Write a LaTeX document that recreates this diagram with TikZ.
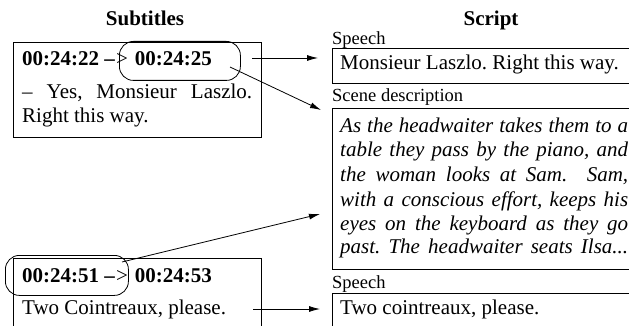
\documentclass[tikz,border=0pt]{standalone}
\usepackage{fontspec}
\setmainfont{Liberation Serif}
\usetikzlibrary{arrows.meta}

\newcommand{\stamppair}[2]{\textbf{#1 –}\hspace{1pt}{>}\hspace{7pt}\textbf{#2}}

\tikzset{
  headtxt/.style={font=\fontsize{21}{25}\selectfont\bfseries, anchor=base, inner sep=0pt},
  maintxt/.style={font=\fontsize{21}{25}\selectfont, anchor=base west, inner sep=0pt},
  labeltxt/.style={font=\fontsize{18.5}{22}\selectfont, anchor=base west, inner sep=0pt},
  scenetxt/.style={font=\fontsize{21}{25}\selectfont\itshape, anchor=base west, inner sep=0pt},
  textbox/.style={draw, line width=0.8pt, inner sep=0pt, anchor=north west},
  stampoval/.style={draw, line width=0.8pt, rounded corners=14pt, inner sep=0pt, anchor=north west},
  link/.style={line width=0.8pt, -{Latex[length=11pt,width=6pt]}},
}

\begin{document}
\frenchspacing
\begin{tikzpicture}[x=1pt, y=-1pt]

\useasboundingbox (0,0) rectangle (629,326);
\clip (0,0) rectangle (629,326);

% -------- headings -----------
\node[headtxt] (hsub) at (145,26) {Subtitles};
\node[headtxt] (hscr) at (491,26) {Script};

% -------- subtitle boxes -----------
\node[textbox, minimum width=248pt, minimum height=95pt] (subA) at (13,42) {};
\node[textbox, minimum width=248pt, minimum height=120pt] (subB) at (13,258) {};

\node[maintxt] (stampA) at (22,66) {\stamppair{00:24:22}{00:24:25}};
\node[maintxt] (lineA1) at (22,99) {\makebox[230pt][s]{– Yes, Monsieur Laszlo.}};
\node[maintxt] (lineA2) at (22,123) {Right this way.};

\node[maintxt] (stampB) at (22,282) {\stamppair{00:24:51}{00:24:53}};
\node[maintxt] (lineB1) at (22,314) {Two Cointreaux, please.};

\node[stampoval, minimum width=121pt, minimum height=39pt] (ovA) at (119,41) {};
\node[stampoval, minimum width=123pt, minimum height=40pt] (ovB) at (5,255) {};

% -------- script boxes -----------
\node[labeltxt] (labSpA) at (332,45) {Speech};
\node[textbox, minimum width=340pt, minimum height=35pt] (spA) at (332,48) {};
\node[maintxt] (txtSpA) at (340,70) {Monsieur Laszlo. Right this way.};

\node[labeltxt] (labScene) at (332,102) {Scene description};
\node[textbox, minimum width=340pt, minimum height=161pt] (scene) at (332,108) {};
\node[scenetxt] (sc1) at (340,133) {\makebox[288pt][s]{As the headwaiter takes them to a}};
\node[scenetxt] (sc2) at (340,157) {\makebox[288pt][s]{table they pass by the piano, and}};
\node[scenetxt] (sc3) at (340,182) {\makebox[288pt][s]{the woman looks at Sam.\ \ Sam,}};
\node[scenetxt] (sc4) at (340,206) {\makebox[288pt][s]{with a conscious effort, keeps his}};
\node[scenetxt] (sc5) at (340,230) {\makebox[288pt][s]{eyes on the keyboard as they go}};
\node[scenetxt] (sc6) at (340,253) {\makebox[288pt][s]{past. The headwaiter seats Ilsa...}};

\node[labeltxt] (labSpB) at (332,288) {Speech};
\node[textbox, minimum width=340pt, minimum height=80pt] (spB) at (332,293) {};
\node[maintxt] (txtSpB) at (340,314) {Two cointreaux, please.};

% -------- links -----------
\coordinate (fromA) at (252,58);
\coordinate (toA) at (318,58);
\coordinate (fromOvA) at (230,67);
\coordinate (toSceneA) at (321,110);
\coordinate (fromOvB) at (122,262);
\coordinate (toSceneB) at (320,214);
\coordinate (fromB) at (253,309);
\coordinate (toB) at (320,309);

\draw[link] (fromA) -- (toA);
\draw[link] (fromOvA) -- (toSceneA);
\draw[link] (fromOvB) -- (toSceneB);
\draw[link] (fromB) -- (toB);

\end{tikzpicture}
\end{document}
